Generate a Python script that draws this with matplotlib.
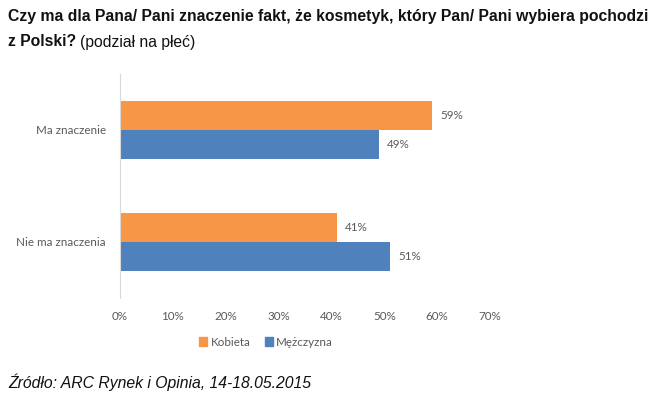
import matplotlib
matplotlib.use("Agg")
import matplotlib.pyplot as plt
from matplotlib.patches import Patch

categories = ["Nie ma znaczenia", "Ma znaczenie"]
series_names = ["Kobieta", "Mężczyzna"]
kobieta = [41, 59]
mezczyzna = [51, 49]
xticks = [0, 10, 20, 30, 40, 50, 60, 70]

orange = "#F79646"
blue = "#4F81BD"
gray = "#595959"
fs = 8.4

fig = plt.figure(figsize=(6.55, 3.99), dpi=100)
ax = fig.add_axes([120/655, 1-298/399, 370/655, 224/399])

h = 0.263
ys = list(range(len(categories)))
b1 = ax.barh([y + h/2 for y in ys], kobieta, height=h, color=orange, label=series_names[0])
b2 = ax.barh([y - h/2 for y in ys], mezczyzna, height=h, color=blue, label=series_names[1])

for bars, vals in ((b1, kobieta), (b2, mezczyzna)):
    for bar, v in zip(bars, vals):
        ax.annotate(f"{v}%", (bar.get_width(), bar.get_y() + bar.get_height()/2),
                    xytext=(6, 0), textcoords="offset points", va="center", ha="left",
                    fontsize=fs, color=gray, family="Lato")

ax.set_xlim(0, 70)
ax.set_ylim(-0.5, 1.5)
ax.set_xticks(xticks)
ax.set_xticklabels([f"{t}%" for t in xticks], fontsize=fs, color=gray, family="Lato")
ax.set_yticks(ys)
ax.set_yticklabels(categories, fontsize=fs, color=gray, family="Lato")
ax.tick_params(axis="both", length=0, pad=10)
ax.tick_params(axis="x", pad=9)
for s in ("top", "right", "bottom"):
    ax.spines[s].set_visible(False)
ax.spines["left"].set_color("#D9D9D9")
ax.spines["left"].set_linewidth(0.8)

handles = [Patch(color=orange, label=series_names[0]), Patch(color=blue, label=series_names[1])]
leg = fig.legend(handles=handles, loc="center", bbox_to_anchor=(266/655, 1-342/399), ncol=2,
                 frameon=False, handlelength=0.7, handleheight=0.7, handletextpad=0.3,
                 columnspacing=1.2, prop={"family": "Lato", "size": fs})
for t in leg.get_texts():
    t.set_color(gray)

tfs = 11.3
fig.text(8/655, 1-17/399, "Czy ma dla Pana/ Pani znaczenie fakt, że kosmetyk, który Pan/ Pani wybiera pochodzi",
         fontsize=tfs, fontweight="bold", family="Liberation Sans", va="center", ha="left", color="#111111")
t2 = fig.text(8/655, 1-42/399, "z Polski?", fontsize=tfs, fontweight="bold",
              family="Liberation Sans", va="center", ha="left", color="#111111")
fig.canvas.draw()
bb = t2.get_window_extent()
fig.text((bb.x1 + 4)/655, 1-42/399, "(podział na płeć)", fontsize=tfs,
         family="Liberation Sans", va="center", ha="left", color="#111111")

fig.text(8/655, 1-382/399, "Źródło: ARC Rynek i Opinia, 14-18.05.2015", fontsize=tfs, style="italic",
         family="Liberation Sans", va="center", ha="left", color="#111111")

fig.savefig("out.png", dpi=100)
